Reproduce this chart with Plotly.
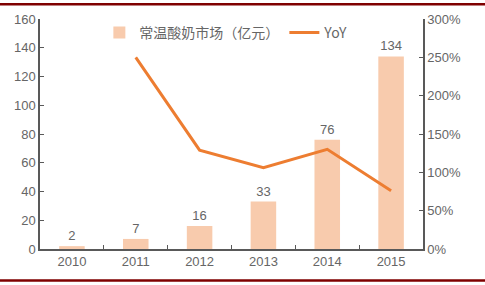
import plotly.graph_objects as go

years = ["2010", "2011", "2012", "2013", "2014", "2015"]
market = [2, 7, 16, 33, 76, 134]
yoy_years = ["2011", "2012", "2013", "2014", "2015"]
yoy = [2.50, 1.29, 1.06, 1.30, 0.76]
bar_name = "常温酸奶市场（亿元）"
line_name = "YoY"

FONT = "Liberation Sans, Noto Sans CJK SC, sans-serif"
GRAY = "#666666"
AXIS = "#595959"

fig = go.Figure()
fig.add_trace(go.Bar(
    x=years, y=market, name=bar_name,
    marker=dict(color="#F8CBAD", line=dict(width=0)),
    width=0.4,
    text=[str(v) for v in market], textposition="outside",
    textfont=dict(size=13, color=GRAY, family=FONT),
    cliponaxis=False,
))
fig.add_trace(go.Scatter(
    x=yoy_years, y=yoy, name=line_name, yaxis="y2",
    mode="lines", line=dict(color="#ED7D31", width=3),
))

fig.update_layout(
    width=485, height=285,
    margin=dict(l=40, r=62, t=16, b=36),
    paper_bgcolor="white", plot_bgcolor="white",
    font=dict(family=FONT, size=13, color=GRAY),
    showlegend=True,
    legend=dict(
        orientation="h", x=0.155, y=0.94, xanchor="left", yanchor="middle",
        font=dict(size=14, color=GRAY, family="Noto Sans CJK SC, sans-serif"),
        bgcolor="rgba(0,0,0,0)", itemwidth=30, tracegroupgap=0,
    ),
    xaxis=dict(
        type="category", showline=True, linecolor=AXIS, linewidth=1.5,
        ticks="inside", tickson="boundaries", ticklen=4, tickcolor=AXIS,
        tickfont=dict(size=13, color=GRAY), showgrid=False, zeroline=False,
    ),
    yaxis=dict(
        range=[0, 160], dtick=20, showline=True, linecolor=AXIS, linewidth=1.5,
        ticks="inside", ticklen=4, tickcolor=AXIS, showgrid=False, zeroline=False,
        tickfont=dict(size=13, color=GRAY),
    ),
    yaxis2=dict(
        range=[0, 3], dtick=0.5, tickformat=".0%", overlaying="y", side="right",
        showline=True, linecolor=AXIS, linewidth=1.5, ticks="inside", ticklen=4,
        tickcolor=AXIS, showgrid=False, zeroline=False,
        tickfont=dict(size=13, color=GRAY),
    ),
    shapes=[
        dict(type="line", xref="paper", yref="paper", x0=-0.2, x1=1.3,
             y0=1 + 15/233, y1=1 + 15/233, line=dict(color="#7F0000", width=2.5)),
        dict(type="line", xref="paper", yref="paper", x0=-0.2, x1=1.3,
             y0=-32/233, y1=-32/233, line=dict(color="#7F0000", width=2.5)),
    ],
)

fig.write_html("out.html")
